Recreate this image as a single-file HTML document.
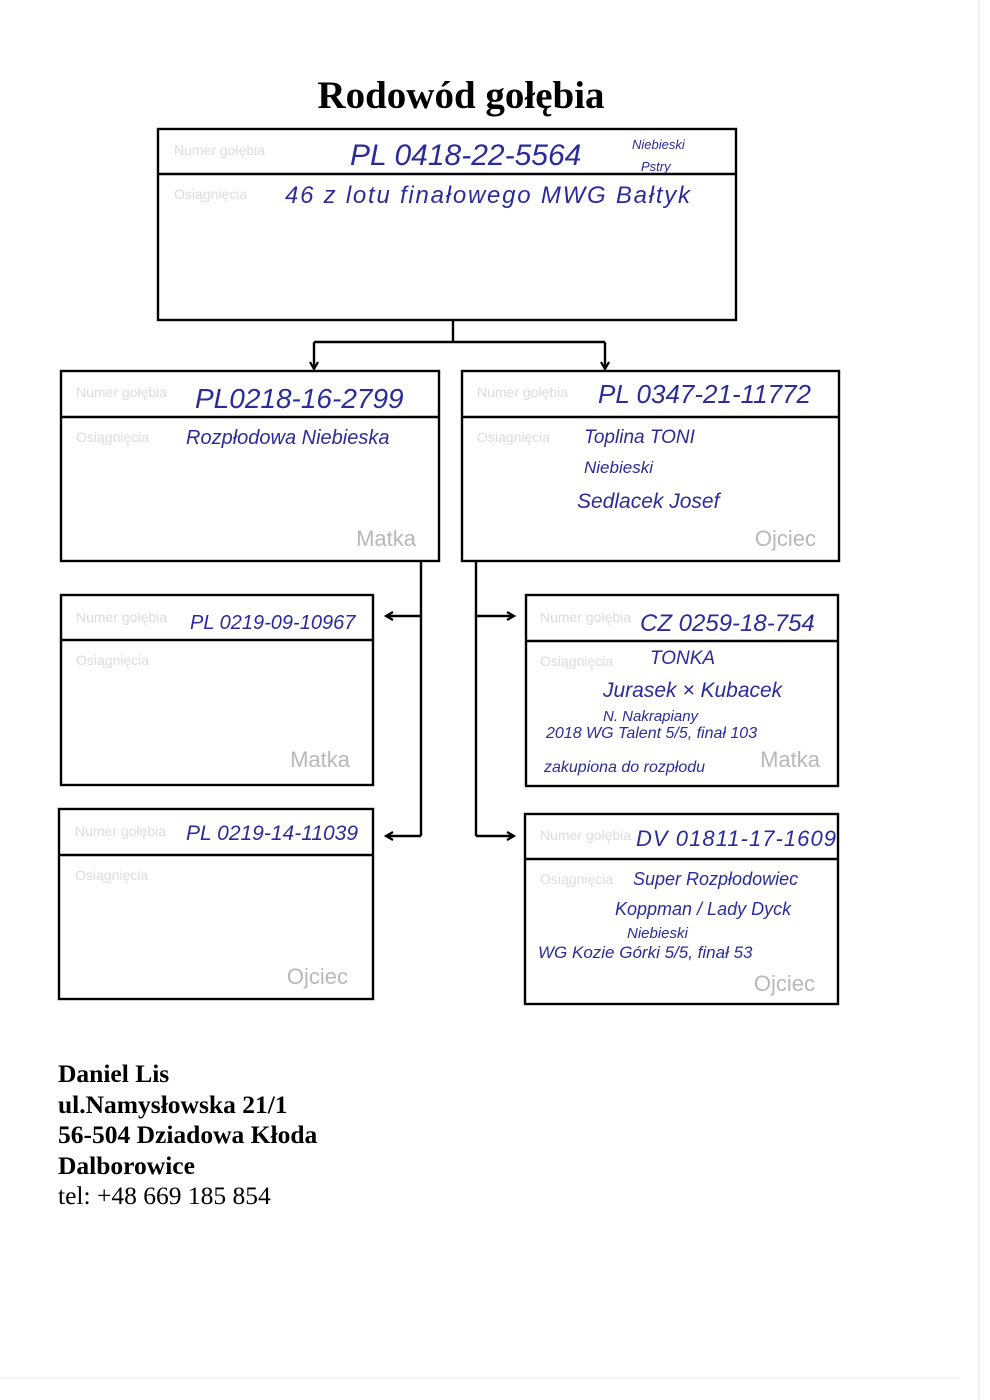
<!DOCTYPE html>
<html><head><meta charset="utf-8"><style>
html,body{margin:0;padding:0;background:#fff;width:990px;height:1400px;overflow:hidden}
svg{display:block}
.g{font-family:"Liberation Sans",sans-serif;font-size:14px;fill:#dcdcdc}
.r{font-family:"Liberation Sans",sans-serif;font-size:22px;fill:#b8b8b8}
.h{font-family:"Liberation Sans",sans-serif;font-style:italic;fill:#2b2b9c}
.t{font-family:"Liberation Serif",serif;font-size:25.5px;fill:#000}
</style></head><body>
<svg width="990" height="1400" viewBox="0 0 990 1400">
<defs><marker id="a" markerWidth="10" markerHeight="10" refX="8" refY="5" orient="auto" markerUnits="userSpaceOnUse"><path d="M1,1 L8,5 L1,9" fill="none" stroke="#000" stroke-width="2.2"/></marker></defs>
<line x1="979" y1="0" x2="979" y2="1400" stroke="#e4e4e4" stroke-width="1"/>
<line x1="0" y1="1378" x2="960" y2="1378" stroke="#e8e8e8" stroke-width="1"/>
<text x="461" y="108" text-anchor="middle" font-family="Liberation Serif,serif" font-weight="bold" font-size="39">Rodowód gołębia</text>
<g fill="none" stroke="#000" stroke-width="2.4">
<rect x="158" y="129" width="578" height="191"/><line x1="158" y1="174" x2="736" y2="174"/>
<rect x="61" y="371" width="378" height="190"/><line x1="61" y1="417" x2="439" y2="417"/>
<rect x="462" y="371" width="377" height="190"/><line x1="462" y1="417" x2="839" y2="417"/>
<rect x="61" y="595" width="312" height="190"/><line x1="61" y1="640" x2="373" y2="640"/>
<rect x="59" y="809" width="314" height="190"/><line x1="59" y1="855" x2="373" y2="855"/>
<rect x="526" y="595" width="312" height="191"/><line x1="526" y1="641" x2="838" y2="641"/>
<rect x="525" y="814" width="313" height="190"/><line x1="525" y1="859" x2="838" y2="859"/>
<path d="M453,320 V342 M314,342 H605"/>
<path d="M314,342 V369" marker-end="url(#a)"/><path d="M605,342 V369" marker-end="url(#a)"/>
<path d="M421,561 V836"/><path d="M476,561 V836"/>
<path d="M421,616 H386" marker-end="url(#a)"/><path d="M421,836 H386" marker-end="url(#a)"/>
<path d="M476,616 H514" marker-end="url(#a)"/><path d="M476,836 H514" marker-end="url(#a)"/>
</g>
<g class="g">
<text x="174" y="155">Numer gołębia</text><text x="174" y="199">Osiągnięcia</text>
<text x="76" y="397">Numer gołębia</text><text x="76" y="442">Osiągnięcia</text>
<text x="477" y="397">Numer gołębia</text><text x="477" y="442">Osiągnięcia</text>
<text x="76" y="622">Numer gołębia</text><text x="76" y="665">Osiągnięcia</text>
<text x="75" y="836">Numer gołębia</text><text x="75" y="880">Osiągnięcia</text>
<text x="540" y="622">Numer gołębia</text><text x="540" y="666">Osiągnięcia</text>
<text x="540" y="840">Numer gołębia</text><text x="540" y="884">Osiągnięcia</text>
</g>
<g class="r">
<text x="416" y="546" text-anchor="end">Matka</text>
<text x="816" y="546" text-anchor="end">Ojciec</text>
<text x="350" y="767" text-anchor="end">Matka</text>
<text x="348" y="984" text-anchor="end">Ojciec</text>
<text x="820" y="767" text-anchor="end">Matka</text>
<text x="815" y="991" text-anchor="end">Ojciec</text>
</g>
<g class="h">
<text x="350" y="165" font-size="30">PL 0418-22-5564</text>
<text x="632" y="149" font-size="13">Niebieski</text><text x="641" y="171" font-size="13">Pstry</text>
<text x="285" y="203" font-size="24" textLength="405">46 z lotu finałowego MWG Bałtyk</text>
<text x="195" y="408" font-size="28">PL0218-16-2799</text>
<text x="186" y="444" font-size="20">Rozpłodowa  Niebieska</text>
<text x="598" y="403" font-size="26">PL 0347-21-11772</text>
<text x="584" y="443" font-size="19">Toplina  TONI</text>
<text x="584" y="473" font-size="17">Niebieski</text>
<text x="577" y="508" font-size="21">Sedlacek  Josef</text>
<text x="190" y="629" font-size="20">PL 0219-09-10967</text>
<text x="640" y="631" font-size="24">CZ 0259-18-754</text>
<text x="650" y="664" font-size="19">TONKA</text>
<text x="603" y="697" font-size="21">Jurasek × Kubacek</text>
<text x="603" y="721" font-size="15">N. Nakrapiany</text>
<text x="546" y="738" font-size="16">2018 WG Talent 5/5, finał 103</text>
<text x="544" y="772" font-size="16">zakupiona do rozpłodu</text>
<text x="186" y="840" font-size="21">PL 0219-14-11039</text>
<text x="636" y="846" font-size="22" textLength="200">DV 01811-17-1609</text>
<text x="633" y="885" font-size="18">Super  Rozpłodowiec</text>
<text x="615" y="915" font-size="18">Koppman / Lady Dyck</text>
<text x="627" y="938" font-size="15">Niebieski</text>
<text x="538" y="958" font-size="17">WG Kozie Górki  5/5, finał 53</text>
</g>
<g class="t" font-weight="bold">
<text x="58" y="1082">Daniel Lis</text>
<text x="58" y="1113">ul.Namysłowska 21/1</text>
<text x="58" y="1143">56-504 Dziadowa Kłoda</text>
<text x="58" y="1174">Dalborowice</text>
</g>
<text class="t" x="58" y="1204">tel: +48 669 185 854</text>
</svg>
</body></html>
